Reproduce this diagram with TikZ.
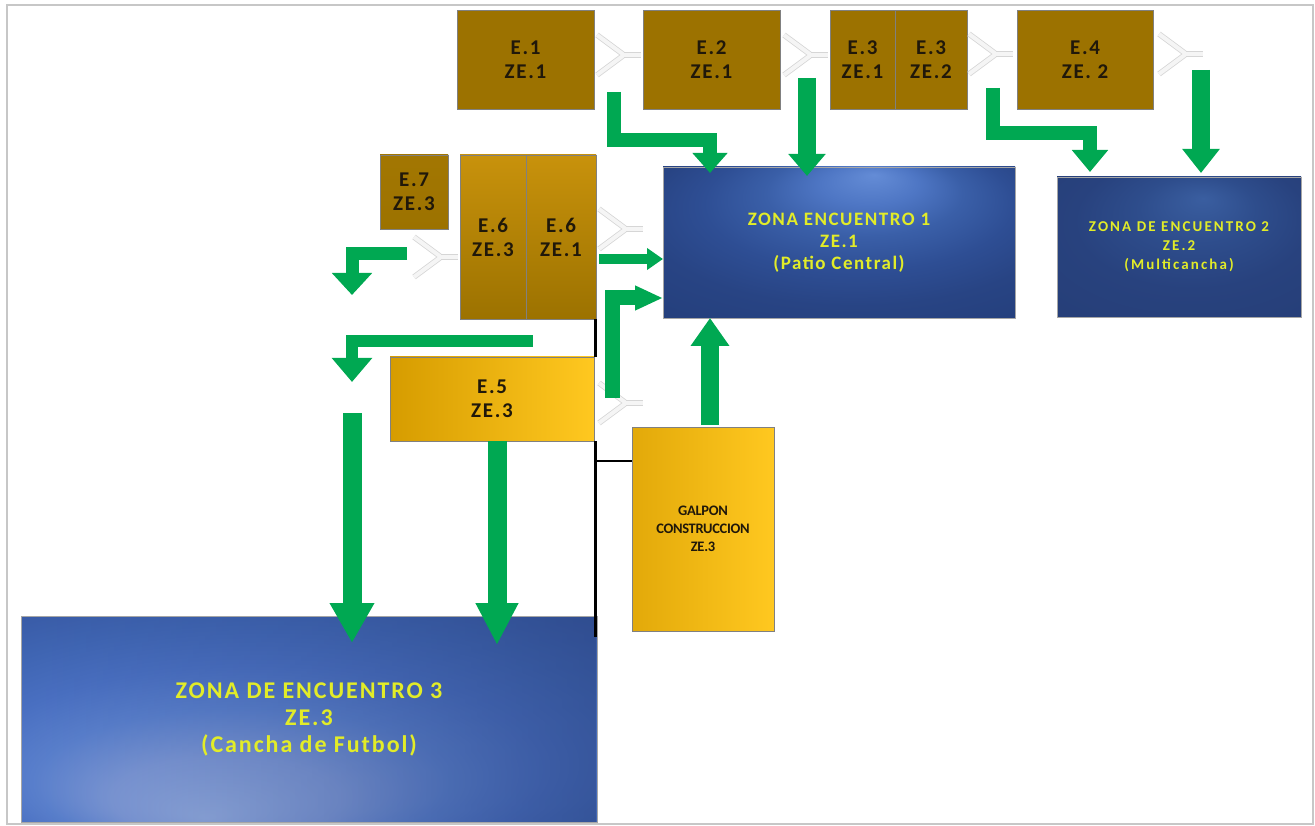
\documentclass[tikz,border=0pt]{standalone}
\usepackage{fontspec}
\setmainfont{Carlito}
\usetikzlibrary{arrows.meta,calc,fadings}
\definecolor{grn}{RGB}{0,168,82}
\definecolor{gold}{RGB}{156,114,0}
\definecolor{goldlt}{RGB}{200,146,12}
\definecolor{yel}{RGB}{255,200,32}
\definecolor{yeldk}{RGB}{214,156,0}
\definecolor{txtd}{RGB}{32,24,10}
\definecolor{ztxt}{RGB}{226,236,40}
\definecolor{zdk}{RGB}{36,58,114}
\tikzfading[name=fadeR, left color=transparent!100, middle color=transparent!100, right color=transparent!60]
\pgfdeclareradialshading{zeone}{\pgfpoint{5bp}{22.5bp}}{color(0bp)=(rgb,255:red,100;green,140;blue,214); color(7bp)=(rgb,255:red,78;green,118;blue,196); color(14bp)=(rgb,255:red,58;green,95;blue,168); color(22bp)=(rgb,255:red,46;green,78;blue,148); color(30bp)=(rgb,255:red,40;green,68;blue,132); color(50bp)=(rgb,255:red,32;green,58;blue,116)}
\pgfdeclareradialshading{zetwo}{\pgfpoint{5bp}{17.5bp}}{color(0bp)=(rgb,255:red,58;green,94;blue,160); color(12bp)=(rgb,255:red,46;green,77;blue,140); color(24bp)=(rgb,255:red,40;green,66;blue,126); color(50bp)=(rgb,255:red,36;green,60;blue,116)}
\pgfdeclareradialshading{zethree}{\pgfpoint{-9bp}{-24bp}}{color(0bp)=(rgb,255:red,145;green,170;blue,222); color(10bp)=(rgb,255:red,125;green,152;blue,214); color(18bp)=(rgb,255:red,90;green,128;blue,205); color(25bp)=(rgb,255:red,74;green,112;blue,194); color(32bp)=(rgb,255:red,64;green,102;blue,180); color(42bp)=(rgb,255:red,54;green,86;blue,160); color(50bp)=(rgb,255:red,46;green,74;blue,145)}
\begin{document}
\begin{tikzpicture}[x=1pt,y=-1pt,
  box/.style={draw=black!50, line width=0.8pt, inner sep=0pt, outer sep=0pt, anchor=north west, align=center, text=txtd,
    font=\bfseries\fontsize{21}{24}\selectfont\addfontfeatures{LetterSpace=8}},
  zone/.style={draw=black!35, line width=0.6pt, inner sep=0pt, outer sep=0pt, anchor=north west, align=center, text=ztxt},
  garrow/.style n args={3}{draw=grn, line width=#1, line join=miter, -{Triangle[width=#2,length=#3]}},
  ghostline/.style={draw=black!16, double=black!4, double distance=4pt, line width=0.8pt, line join=miter},
  pics/ghost/.style={code={
    \draw[ghostline] (0,-20) -- (27,0) -- (0,20);
    \draw[ghostline] (27,0) -- (44,0);
  }},
  blk/.style={draw=black, line width=#1},
  darkright/.style={path picture={\fill[zdk, path fading=fadeR] (path picture bounding box.south west) rectangle (path picture bounding box.north east);}}
]
\useasboundingbox (0,0) rectangle (1315,826);
\draw[draw=black!22, line width=2pt] (7,5) rectangle (1313,824);

% top row
\node[box, fill=gold, minimum width=137, minimum height=99] (e1) at (457,10) {E.1\\ZE.1};
\node[box, fill=gold, minimum width=137, minimum height=99] (e2) at (643,10) {E.2\\ZE.1};
\node[box, fill=gold, minimum width=65, minimum height=99] (e3a) at (830,10) {E.3\\ZE.1};
\node[box, fill=gold, minimum width=72, minimum height=99] (e3b) at (895,10) {E.3\\ZE.2};
\node[box, fill=gold, minimum width=136, minimum height=99] (e4) at (1017,10) {E.4\\ZE. 2};

% middle
\node[box, top color=gold!85!goldlt, bottom color=gold, minimum width=68, minimum height=74] (e7) at (380,155) {E.7\\ZE.3};
\node[box, top color=goldlt, bottom color=gold, minimum width=66, minimum height=164] (e6a) at (460,155) {E.6\\ZE.3};
\node[box, top color=goldlt, bottom color=gold, minimum width=70, minimum height=164] (e6b) at (526,155) {E.6\\ZE.1};
\node[box, left color=yeldk, right color=yel, minimum width=204, minimum height=84] (e5) at (390,357) {E.5\\ZE.3};
\node[box, left color=yeldk!70!yel, right color=yel, minimum width=142, minimum height=204,
  font=\bfseries\fontsize{14.5}{18}\selectfont\addfontfeatures{LetterSpace=-2}] (galpon) at (632,427) {GALPON\\CONSTRUCCION\\ZE.3};

% zones
\node[zone, shading=zeone, minimum width=352, minimum height=151,
  font=\bfseries\fontsize{19}{22}\selectfont\addfontfeatures{LetterSpace=8}] (ze1) at (663,167) {ZONA ENCUENTRO 1\\ZE.1\\(Patio Central)};
\node[zone, shading=zetwo, minimum width=244, minimum height=140,
  font=\bfseries\fontsize{15}{19}\selectfont\addfontfeatures{LetterSpace=14}] (ze2) at (1057,177) {ZONA DE ENCUENTRO 2\\ZE.2\\(Multicancha)};
\node[zone, shading=zethree, darkright, minimum width=576, minimum height=206,
  font=\bfseries\fontsize{24}{27}\selectfont\addfontfeatures{LetterSpace=8}] (ze3) at (21,616) {ZONA DE ENCUENTRO 3\\ZE.3\\(Cancha de Futbol)};

% ghost chevrons
\pic at (597,55) {ghost};
\pic at (784,55) {ghost};
\pic at (969,54) {ghost};
\pic at (1159,54) {ghost};
\pic at (599,229) {ghost};
\pic at (414,257) {ghost};
\pic at (599,403) {ghost};

% black lines
\coordinate (bl1) at (595,319);
\coordinate (bl2) at (595,441);
\coordinate (bl3) at (595,637);
\coordinate (bl4) at (595,461);
\draw[blk=3pt] (bl1) -- (bl1 |- e5.north);
\draw[blk=3pt] (bl2) -- (bl3);
\draw[blk=1.6pt] (bl4) -- (galpon.west |- bl4);

% green arrows
\coordinate (a1s) at (614,92);
\coordinate (a1m) at (710,140);
\draw[garrow={14pt}{34pt}{20pt}] (a1s) |- (a1m) -- (710,173);
\coordinate (a2s) at (807,78);
\draw[garrow={18pt}{36pt}{22pt}] (a2s) -- (807,176);
\coordinate (a3s) at (993,88);
\coordinate (a3m) at (1090,133);
\draw[garrow={14pt}{35pt}{22pt}] (a3s) |- (a3m) -- (1090,172);
\coordinate (a4s) at (1201,70);
\draw[garrow={18pt}{36pt}{24pt}] (a4s) -- (1201,173);

\coordinate (a5s) at (599,259);
\draw[garrow={10pt}{21pt}{16pt}] (a5s) -- (ze1.west |- a5s);
\coordinate (a6s) at (612,398);
\coordinate (a6m) at (612,298);
\draw[garrow={15pt}{23pt}{28pt}] (a6s) -- (a6m) -- (ze1.west |- a6m);
\coordinate (a7s) at (710,425);
\draw[garrow={18pt}{37pt}{28pt}] (a7s) -- (a7s |- ze1.south);

\coordinate (a8s) at (407,254);
\coordinate (a8m) at (352,254);
\draw[garrow={13pt}{39pt}{22pt}] (a8s) -- (a8m) -- (352,295);
\coordinate (a9s) at (533,341);
\coordinate (a9m) at (352,341);
\draw[garrow={12pt}{39pt}{24pt}] (a9s) -- (a9m) -- (352,382);
\coordinate (a10s) at (352,413);
\draw[garrow={19pt}{42pt}{40pt}] (a10s) -- (352,643);
\coordinate (a11s) at (497,441);
\draw[garrow={19pt}{40pt}{42pt}] (a11s) -- (497,645);
\end{tikzpicture}
\end{document}
